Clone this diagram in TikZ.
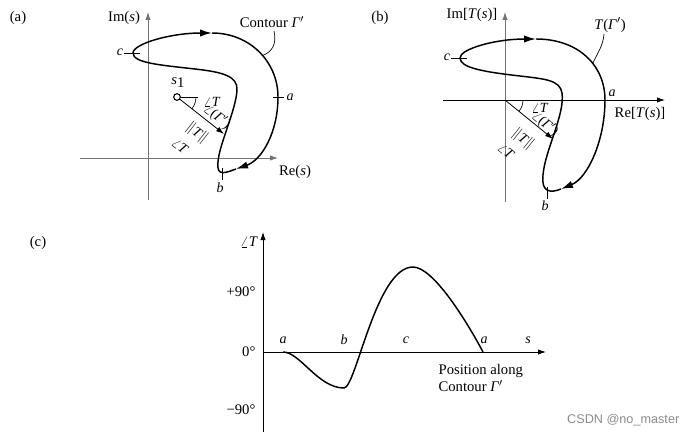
\documentclass[tikz,border=0pt]{standalone}
\usepackage{fontspec}
\setmainfont{Liberation Serif}
\newfontfamily\wmfont{Liberation Sans}
\usetikzlibrary{arrows.meta}

\newcommand{\vi}[1]{\textit{#1}}
\newcommand{\gp}{\vi{Γ}$'$}

\tikzset{
  axis/.style={line width=0.6pt, -{Latex[length=6pt,width=4pt]}},
  contour/.style={line width=1.1pt},
  flow/.style={contour, -{Latex[length=9pt,width=5.5pt]}},
  lbl/.style={font=\fontsize{11}{13}\selectfont, inner sep=1pt},
  pt/.style={font=\fontsize{10.5}{12}\selectfont, inner sep=1pt},
  tick/.style={line width=0.5pt},
}

\begin{document}
\begin{tikzpicture}[x=0.75pt,y=-0.75pt]
  \useasboundingbox (0,0) rectangle (693,435);

  % ---------- (a) s-plane ----------
  \node[lbl] (capA) at (18,18) {(a)};
  \draw[axis, black!55] (148,200) -- (148,12);
  \draw[axis, black!55] (80,158) -- (278,158);
  \node[lbl] (imA) at (124,18) {Im(\vi{s})};
  \node[lbl] (reA) at (295,172) {Re(\vi{s})};

  \coordinate (cA) at (133,53);
  \coordinate (topA) at (212,33);
  \coordinate (aA) at (278,97);
  \coordinate (arrA) at (236,169);
  \draw[flow] (cA) .. controls (133,44) and (170,33) .. (topA);
  \draw[contour] (topA) .. controls (250,33) and (278,62) .. (aA)
    coordinate[pos=0.55] (gamA);
  \draw[flow] (aA) .. controls (278,132) and (262,160) .. (arrA);
  \draw[contour] (arrA) .. controls (227,172) and (216,178) .. (218,162)
    .. controls (219,145) and (236,110) .. (237,90)
    .. controls (238,76) and (222,72) .. (195,69)
    .. controls (160,65) and (133,63) .. (cA);

  \draw[tick] (124,53) -- (140,53);
  \draw[tick] (273,97) -- (284,97);
  \draw[tick] (222,168) -- (222,180);
  \node[pt] (cAl) at (120,52) {\vi{c}};
  \node[pt] (aAl) at (290,97) {\vi{a}};
  \node[pt] (bAl) at (220,188) {\vi{b}};

  \node[lbl] (contA) at (272,22) {Contour \gp};
  \draw[line width=0.5pt] (274,31) .. controls (277,44) and (272,52) .. (gamA);

  \node[circle, draw, line width=0.8pt, fill=white, inner sep=0pt,
    minimum size=5pt] (s1) at (177,97) {};
  \node[lbl] (s1l) at (178,83) {\vi{s}\raisebox{-0.45ex}{1}};
  \coordinate (tipA) at (224,134);
  \draw[line width=0.5pt] (s1) -- (198,97);
  \draw[line width=0.6pt, -{Latex[length=6pt,width=4pt]}] (s1) -- (tipA);
  \draw[line width=0.5pt] (196,97) arc (0:38:19);
  \node[pt] (angA) at (212,102) {$\angle$\vi{T}};
  \node[pt, rotate=-38] (phA) at (217,117) {$\angle$(\gp)};
  \node[pt, rotate=-38] (magA) at (197,133) {$\|$\vi{T}$\|$};
  \node[pt, rotate=-38] (angA2) at (180,146) {$\angle$\vi{T}};

  % ---------- (b) T-plane ----------
  \node[lbl] (capB) at (380,18) {(b)};
  \draw[axis, black!55] (505,202) -- (505,12);
  \draw[axis] (443,100) -- (665,100);
  \node[lbl] (imB) at (472,15) {Im[\vi{T}(\vi{s})]};
  \node[lbl] (reB) at (640,114) {Re[\vi{T}(\vi{s})]};

  \coordinate (cB) at (460,58);
  \coordinate (topB) at (536,39);
  \coordinate (aB) at (605,100);
  \coordinate (arrB) at (561,189);
  \draw[flow] (cB) .. controls (460,49) and (495,39) .. (topB);
  \draw[contour] (topB) .. controls (578,39) and (605,65) .. (aB)
    coordinate[pos=0.6] (gamB);
  \draw[flow] (aB) .. controls (605,140) and (588,178) .. (arrB);
  \draw[contour] (arrB) .. controls (551,193) and (541,193) .. (543,175)
    .. controls (545,150) and (565,115) .. (562,93)
    .. controls (560,80) and (545,79) .. (520,76)
    .. controls (485,72) and (460,68) .. (cB);

  \draw[tick] (451,58) -- (467,58);
  \draw[tick] (547,187) -- (547,199);
  \node[pt] (cBl) at (447,57) {\vi{c}};
  \node[pt] (aBl) at (612,93) {\vi{a}};
  \node[pt] (bBl) at (545,206) {\vi{b}};

  \node[lbl] (contB) at (610,25) {\vi{T}(\gp)};
  \draw[line width=0.5pt] (604,34) .. controls (603,46) and (598,52) .. (gamB);

  \coordinate (oB) at (505,100);
  \coordinate (tipB) at (553,139);
  \draw[line width=0.6pt, -{Latex[length=6pt,width=4pt]}] (oB) -- (tipB);
  \draw[line width=0.5pt] (523,100) arc (0:39:18);
  \node[pt] (angB) at (540,108) {$\angle$\vi{T}};
  \node[pt, rotate=-39] (phB) at (545,124) {$\angle$(\gp)};
  \node[pt, rotate=-39] (magB) at (523,139) {$\|$\vi{T}$\|$};
  \node[pt, rotate=-39] (angB2) at (506,151) {$\angle$\vi{T}};

  % ---------- (c) phase along contour ----------
  \node[lbl] (capC) at (38,243) {(c)};
  \draw[axis] (263,432) -- (263,232);
  \draw[axis] (263,352) -- (546,352);
  \node[lbl] (angC) at (249,242) {$\angle$\vi{T}};
  \node[lbl, anchor=east] (p90) at (257,292) {+90°};
  \node[lbl, anchor=east] (z0) at (257,352) {0°};
  \node[lbl, anchor=east] (m90) at (257,410) {−90°};

  \node[pt] (aC1) at (283,340) {\vi{a}};
  \node[pt] (bC) at (344,340) {\vi{b}};
  \node[pt] (cC) at (406,340) {\vi{c}};
  \node[pt] (aC2) at (484,340) {\vi{a}};
  \node[pt] (sC) at (528,340) {\vi{s}};
  \node[lbl, anchor=west, align=left] (posC) at (437,378)
    {Position along\\Contour \gp};

  \draw[contour] (283,352) .. controls (300,352) and (318,388) .. (344,388)
    .. controls (356,388) and (376,267) .. (413,267)
    .. controls (433,267) and (466,320) .. (483,352);

  \node[font=\wmfont\fontsize{9.5}{11}\selectfont, text=black!45, anchor=east]
    (wm) at (684,420) {CSDN @no\_master};
\end{tikzpicture}
\end{document}
